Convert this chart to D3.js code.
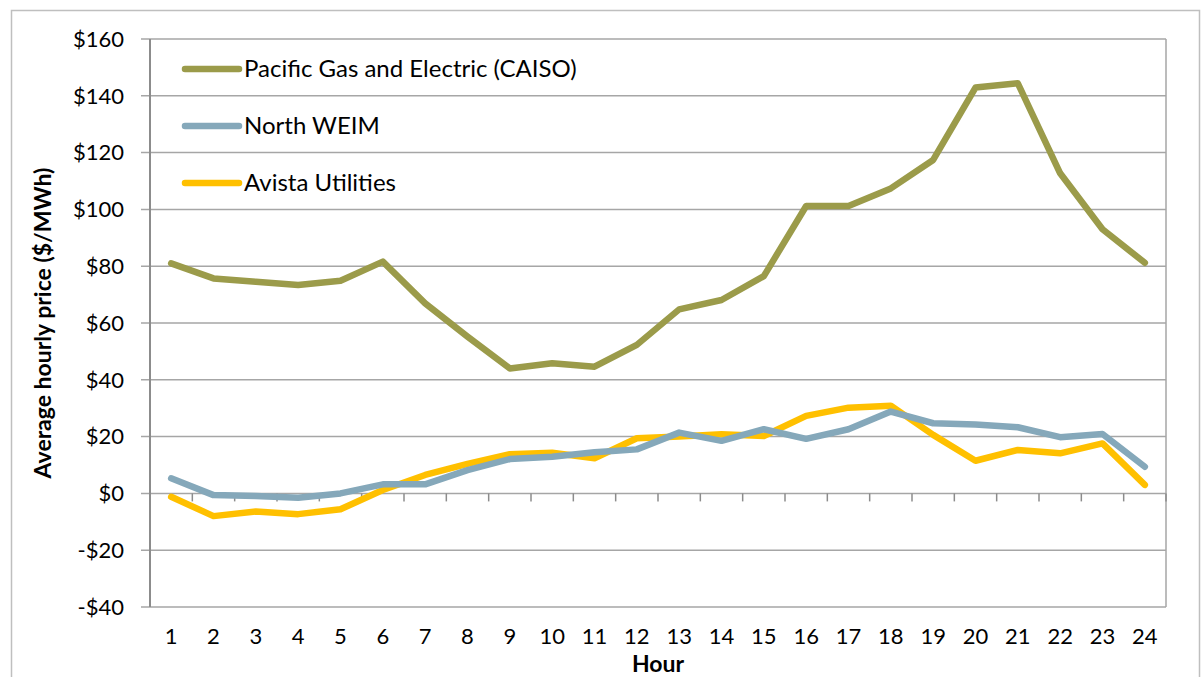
<!DOCTYPE html>
<html>
<head>
<meta charset="utf-8">
<script src="https://cdn.jsdelivr.net/npm/d3@7"></script>
<style>
  body { margin: 0; background: #fff; }
  svg { display: block; font-family: Lato, "Open Sans", sans-serif; }
</style>
</head>
<body>
<svg id="chart" width="1203" height="677"></svg>
<script>
// hours on the x axis
const hours = d3.range(1, 25).map(String);

// average hourly prices ($/MWh)
const pge = [81, 75.7, 74.5, 73.4, 74.9, 81.6, 66.9, 55.2, 44, 45.8, 44.6, 52.3,
             64.8, 68.1, 76.5, 101.2, 101.2, 107.4, 117.4, 142.9, 144.4, 112.7, 93, 81.2];
const northWeim = [5.3, -0.6, -0.9, -1.5, 0, 3.2, 3.2, 8.2, 12.1, 12.9, 14.5, 15.5,
                   21.4, 18.5, 22.6, 19.2, 22.6, 28.8, 24.7, 24.3, 23.3, 19.8, 20.9, 9.4];
const avista = [-1.2, -8, -6.4, -7.3, -5.6, 1.2, 6.5, 10.4, 13.8, 14.3, 12.4, 19.4,
                20, 20.8, 20.2, 27.3, 30.2, 30.9, 20.6, 11.5, 15.3, 14.1, 17.6, 3];

const seriesNames = ["Pacific Gas and Electric (CAISO)", "North WEIM", "Avista Utilities"];
const seriesColors = ["#9b9b4a", "#85a8ba", "#ffc000"];
const yTicks = [-40, -20, 0, 20, 40, 60, 80, 100, 120, 140, 160];

const series = [pge, northWeim, avista].map((vals, i) => ({
    name: seriesNames[i], color: seriesColors[i], values: vals
}));

const svg = d3.select("#chart");
const margin = { left: 150, top: 39, right: 1166, bottom: 607 };

// outer frame
svg.append("rect")
    .attr("x", 11.5).attr("y", 10.5)
    .attr("width", 1188).attr("height", 700)
    .attr("fill", "none").attr("stroke", "#bfbfbf").attr("stroke-width", 1.5);

const x = d3.scaleBand().domain(hours).range([margin.left, margin.right]);
const y = d3.scaleLinear().domain([-40, 160]).range([margin.bottom, margin.top]);

// gridlines
svg.append("g")
    .selectAll("line")
    .data(yTicks)
    .join("line")
    .attr("x1", margin.left - 9).attr("x2", margin.right)
    .attr("y1", d => y(d)).attr("y2", d => y(d))
    .attr("stroke", "#a6a6a6").attr("stroke-width", 1.5);

// right border of plot
svg.append("line")
    .attr("x1", margin.right).attr("x2", margin.right)
    .attr("y1", margin.top).attr("y2", margin.bottom)
    .attr("stroke", "#a6a6a6").attr("stroke-width", 1.5);

// y axis line
svg.append("line")
    .attr("x1", margin.left).attr("x2", margin.left)
    .attr("y1", margin.top).attr("y2", margin.bottom)
    .attr("stroke", "#8c8c8c").attr("stroke-width", 2);

// category ticks on the zero line
const bounds = hours.map(h => x(h)).concat([margin.right]).slice(1);
svg.append("g")
    .selectAll("line")
    .data(bounds)
    .join("line")
    .attr("x1", d => d).attr("x2", d => d)
    .attr("y1", y(0)).attr("y2", y(0) + 8)
    .attr("stroke", "#8c8c8c").attr("stroke-width", 1.5);

// y tick labels
svg.append("g")
    .selectAll("text")
    .data(yTicks)
    .join("text")
    .attr("x", 124)
    .attr("y", d => y(d))
    .attr("dy", "0.35em")
    .attr("text-anchor", "end")
    .attr("font-size", 22)
    .attr("fill", "#000")
    .text(d => d3.format("$,.0f")(d).replace("$-", "-$").replace("−$", "-$"));

// x tick labels
svg.append("g")
    .selectAll("text")
    .data(hours)
    .join("text")
    .attr("x", d => x(d) + x.bandwidth() / 2)
    .attr("y", 644)
    .attr("text-anchor", "middle")
    .attr("font-size", 22)
    .text(d => d);

// axis titles
svg.append("text")
    .attr("x", (margin.left + margin.right) / 2)
    .attr("y", 672)
    .attr("text-anchor", "middle")
    .attr("font-size", 23)
    .attr("font-weight", "bold")
    .text("Hour");

svg.append("text")
    .attr("transform", `translate(51, ${(margin.top + margin.bottom) / 2}) rotate(-90)`)
    .attr("text-anchor", "middle")
    .attr("font-size", 23)
    .attr("font-weight", "bold")
    .text("Average hourly price ($/MWh)");

// lines
const line = d3.line()
    .x((d, i) => x(hours[i]) + x.bandwidth() / 2)
    .y(d => y(d));

svg.append("g")
    .selectAll("path")
    .data(series.slice().reverse())
    .join("path")
    .attr("d", d => line(d.values))
    .attr("fill", "none")
    .attr("stroke", d => d.color)
    .attr("stroke-width", 6.5)
    .attr("stroke-linejoin", "round")
    .attr("stroke-linecap", "round");

// legend
const legend = svg.append("g")
    .selectAll("g")
    .data(series)
    .join("g")
    .attr("transform", (d, i) => `translate(185, ${69 + i * 57})`);

legend.append("line")
    .attr("x1", 0).attr("x2", 54)
    .attr("stroke", d => d.color)
    .attr("stroke-width", 6.5)
    .attr("stroke-linecap", "round");

legend.append("text")
    .attr("x", 59)
    .attr("dy", "0.35em")
    .attr("font-size", 24)
    .text(d => d.name);
</script>
</body>
</html>
